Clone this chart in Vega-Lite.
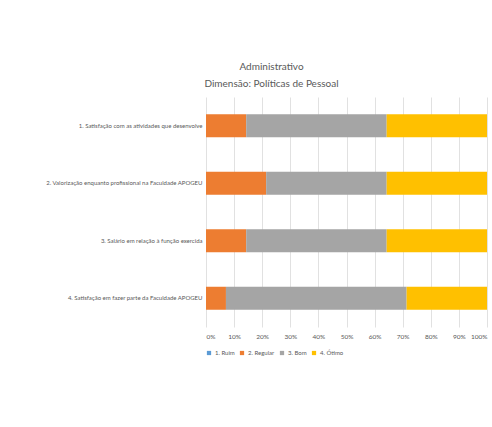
{
  "$schema": "https://vega.github.io/schema/vega-lite/v6.json",
  "width": 281,
  "height": 230,
  "autosize": "none",
  "padding": {"left": 206, "top": 97, "right": 5, "bottom": 100},
  "background": "white",
  "title": {
    "text": ["Administrativo", "Dimensão: Políticas de Pessoal"],
    "font": "Lato",
    "fontSize": 10,
    "fontWeight": "normal",
    "color": "#595959",
    "lineHeight": 17,
    "anchor": "middle",
    "dx": -75,
    "offset": 8
  },
  "data": {
    "values": [
      {"q": "1. Satisfação com as atividades que desenvolve", "c": "1. Ruim", "v": 0},
      {"q": "1. Satisfação com as atividades que desenvolve", "c": "2. Regular", "v": 14.3},
      {"q": "1. Satisfação com as atividades que desenvolve", "c": "3. Bom", "v": 50.0},
      {"q": "1. Satisfação com as atividades que desenvolve", "c": "4. Ótimo", "v": 35.7},
      {"q": "2. Valorização enquanto profissional na Faculdade APOGEU", "c": "1. Ruim", "v": 0},
      {"q": "2. Valorização enquanto profissional na Faculdade APOGEU", "c": "2. Regular", "v": 21.4},
      {"q": "2. Valorização enquanto profissional na Faculdade APOGEU", "c": "3. Bom", "v": 42.9},
      {"q": "2. Valorização enquanto profissional na Faculdade APOGEU", "c": "4. Ótimo", "v": 35.7},
      {"q": "3. Salário em relação à função exercida", "c": "1. Ruim", "v": 0},
      {"q": "3. Salário em relação à função exercida", "c": "2. Regular", "v": 14.3},
      {"q": "3. Salário em relação à função exercida", "c": "3. Bom", "v": 50.0},
      {"q": "3. Salário em relação à função exercida", "c": "4. Ótimo", "v": 35.7},
      {"q": "4. Satisfação em fazer parte da Faculdade APOGEU", "c": "1. Ruim", "v": 0},
      {"q": "4. Satisfação em fazer parte da Faculdade APOGEU", "c": "2. Regular", "v": 7.1},
      {"q": "4. Satisfação em fazer parte da Faculdade APOGEU", "c": "3. Bom", "v": 64.3},
      {"q": "4. Satisfação em fazer parte da Faculdade APOGEU", "c": "4. Ótimo", "v": 28.6}
    ]
  },
  "mark": {"type": "bar"},
  "encoding": {
    "y": {
      "field": "q",
      "type": "nominal",
      "sort": null,
      "scale": {"paddingInner": 0.6, "paddingOuter": 0.3},
      "axis": {
        "title": null,
        "domain": false,
        "ticks": false,
        "labelFont": "Lato",
        "labelFontSize": 6,
        "labelColor": "#595959",
        "labelPadding": 4,
        "labelLimit": 300
      }
    },
    "x": {
      "field": "v",
      "type": "quantitative",
      "stack": "normalize",
      "scale": {"domain": [0, 1], "nice": false},
      "axis": {
        "title": null,
        "format": ".0%",
        "values": [0, 0.1, 0.2, 0.3, 0.4, 0.5, 0.6, 0.7, 0.8, 0.9, 1],
        "domain": false,
        "ticks": false,
        "grid": true,
        "gridColor": "#D9D9D9",
        "gridWidth": 0.8,
        "labelFont": "Lato",
        "labelFontSize": 6.5,
        "labelColor": "#595959",
        "labelPadding": 6
      }
    },
    "color": {
      "field": "c",
      "type": "nominal",
      "scale": {
        "domain": ["1. Ruim", "2. Regular", "3. Bom", "4. Ótimo"],
        "range": ["#5B9BD5", "#ED7D31", "#A5A5A5", "#FFC000"]
      },
      "legend": {
        "title": null,
        "orient": "bottom",
        "direction": "horizontal",
        "symbolType": "square",
        "symbolSize": 18,
        "symbolStrokeWidth": 0,
        "labelFont": "Lato",
        "labelFontSize": 6,
        "labelColor": "#595959",
        "labelOffset": 3,
        "columnPadding": 4,
        "offset": 10
      }
    }
  },
  "config": {
    "view": {"stroke": null}
  }
}
